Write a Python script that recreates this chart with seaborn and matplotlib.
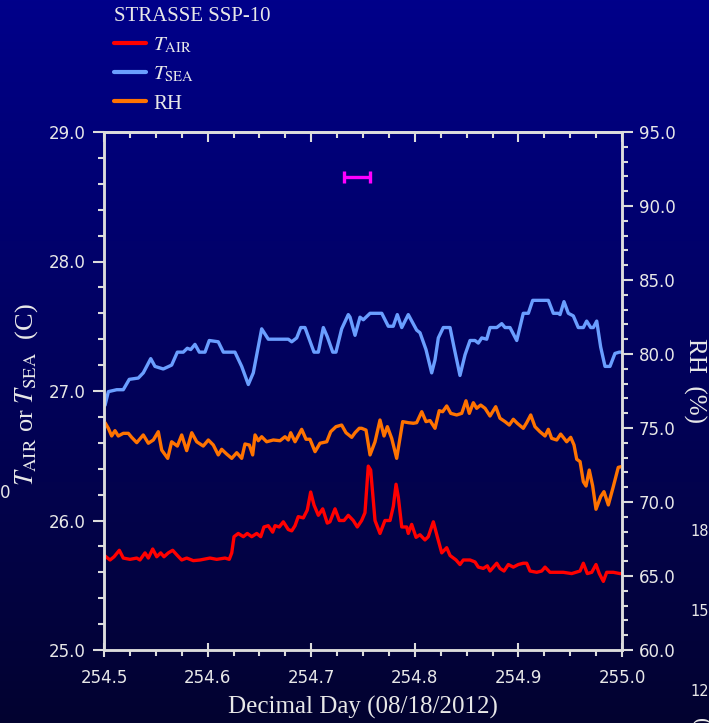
import numpy as np
import pandas as pd
import matplotlib
matplotlib.use("Agg")
import matplotlib.pyplot as plt
from matplotlib.ticker import MultipleLocator, FormatStrFormatter
from matplotlib.colors import LinearSegmentedColormap
from matplotlib.lines import Line2D
import seaborn as sns

sns.set_theme(style="white")
plt.rcParams['font.family'] = ['DejaVu Sans']
plt.rcParams['mathtext.fontset'] = 'stix'

# ---------------- data ----------------
tsea_day = [254.5010, 254.5042, 254.5123, 254.5186, 254.5244, 254.5331, 254.5379, 254.5412,
            254.5451, 254.5492, 254.5572, 254.5653, 254.5708, 254.5765, 254.5804, 254.5837,
            254.5878, 254.5920, 254.5975, 254.6016, 254.6103, 254.6152, 254.6264, 254.6329,
            254.6393, 254.6441, 254.6522, 254.6586, 254.6779, 254.6812, 254.6860, 254.6899,
            254.6940, 254.7027, 254.7069, 254.7117, 254.7155, 254.7208, 254.7239, 254.7294,
            254.7358, 254.7375, 254.7423, 254.7471, 254.7503, 254.7568, 254.7681, 254.7744,
            254.7792, 254.7831, 254.7874, 254.7937, 254.8018, 254.8050, 254.8108, 254.8163,
            254.8195, 254.8227, 254.8275, 254.8340, 254.8378, 254.8436, 254.8485, 254.8533,
            254.8581, 254.8613, 254.8646, 254.8694, 254.8726, 254.8791, 254.8839, 254.8871,
            254.8919, 254.8984, 254.9047, 254.9096, 254.9138, 254.9289, 254.9337, 254.9385,
            254.9402, 254.9440, 254.9482, 254.9530, 254.9578, 254.9627, 254.9659, 254.9698,
            254.9723, 254.9756, 254.9794, 254.9836, 254.9884, 254.9932, 254.9974, 255.0000]
tsea_val = [26.89, 26.995, 27.01, 27.01, 27.09, 27.10, 27.14, 27.19,
            27.25, 27.19, 27.17, 27.20, 27.30, 27.30, 27.33, 27.32,
            27.36, 27.30, 27.30, 27.39, 27.38, 27.30, 27.30, 27.19,
            27.05, 27.14, 27.48, 27.40, 27.40, 27.38, 27.41, 27.49,
            27.49, 27.30, 27.30, 27.49, 27.42, 27.30, 27.30, 27.48,
            27.59, 27.57, 27.43, 27.57, 27.55, 27.60, 27.60, 27.50,
            27.50, 27.59, 27.49, 27.59, 27.47, 27.45, 27.32, 27.14,
            27.24, 27.41, 27.49, 27.49, 27.34, 27.12, 27.28, 27.39,
            27.39, 27.37, 27.41, 27.40, 27.49, 27.49, 27.52, 27.49,
            27.49, 27.39, 27.60, 27.60, 27.70, 27.70, 27.60, 27.60,
            27.59, 27.69, 27.60, 27.58, 27.49, 27.49, 27.54, 27.49,
            27.49, 27.54, 27.34, 27.19, 27.19, 27.29, 27.30, 27.30]

rh_day = [254.5010, 254.5042, 254.5074, 254.5106, 254.5138, 254.5186, 254.5235, 254.5267,
          254.5316, 254.5379, 254.5428, 254.5476, 254.5524, 254.5557, 254.5615, 254.5653,
          254.5708, 254.5750, 254.5798, 254.5847, 254.5895, 254.5958, 254.6007, 254.6055,
          254.6103, 254.6136, 254.6184, 254.6233, 254.6281, 254.6329, 254.6361, 254.6403,
          254.6435, 254.6458, 254.6489, 254.6522, 254.6570, 254.6634, 254.6699, 254.6747,
          254.6779, 254.6802, 254.6844, 254.6908, 254.6950, 254.6988, 254.7037, 254.7085,
          254.7150, 254.7188, 254.7239, 254.7294, 254.7336, 254.7391, 254.7423, 254.7464,
          254.7487, 254.7529, 254.7568, 254.7616, 254.7664, 254.7703, 254.7735, 254.7777,
          254.7825, 254.7883, 254.7937, 254.7986, 254.8018, 254.8067, 254.8108, 254.8147,
          254.8195, 254.8236, 254.8269, 254.8308, 254.8347, 254.8404, 254.8453, 254.8494,
          254.8526, 254.8565, 254.8597, 254.8636, 254.8678, 254.8726, 254.8781, 254.8822,
          254.8871, 254.8912, 254.8951, 254.8989, 254.9047, 254.9080, 254.9119, 254.9160,
          254.9208, 254.9257, 254.9289, 254.9321, 254.9370, 254.9408, 254.9466, 254.9505,
          254.9537, 254.9563, 254.9595, 254.9627, 254.9653, 254.9684, 254.9717, 254.9749,
          254.9794, 254.9826, 254.9868, 254.9916, 254.9964, 255.0000]
rh_val = [75.36, 74.98, 74.46, 74.82, 74.46, 74.64, 74.64, 74.37,
          74.01, 74.53, 73.97, 74.19, 74.75, 73.51, 72.95, 74.07,
          73.78, 74.53, 73.47, 74.68, 74.07, 73.78, 74.19, 73.85,
          73.18, 73.56, 73.24, 72.95, 73.33, 72.95, 73.92, 73.85,
          73.18, 74.53, 74.14, 74.41, 74.07, 74.19, 74.14, 74.41,
          74.19, 74.68, 74.07, 74.91, 74.24, 74.24, 73.40, 73.97,
          74.07, 74.75, 75.09, 75.20, 74.68, 74.37, 74.68, 74.98,
          74.98, 74.86, 73.18, 74.07, 75.54, 74.46, 75.09, 74.30,
          72.95, 75.43, 75.36, 75.32, 75.36, 76.10, 75.43, 75.50,
          74.98, 76.17, 76.10, 76.49, 75.99, 75.88, 75.99, 76.84,
          75.99, 76.71, 76.33, 76.55, 76.33, 75.81, 76.44, 75.66,
          75.43, 75.20, 75.59, 75.32, 74.98, 75.36, 75.88, 75.09,
          74.75, 74.46, 74.91, 74.30, 74.19, 74.59, 74.07, 74.37,
          73.85, 72.89, 72.73, 71.37, 71.08, 72.16, 71.08, 69.51,
          70.36, 70.70, 69.80, 71.04, 72.34, 72.40]

tair_day = [254.5010, 254.5058, 254.5097, 254.5148, 254.5186, 254.5251, 254.5316, 254.5347,
            254.5396, 254.5428, 254.5470, 254.5509, 254.5547, 254.5579, 254.5621, 254.5663,
            254.5708, 254.5750, 254.5798, 254.5862, 254.5927, 254.6023, 254.6088, 254.6168,
            254.6209, 254.6233, 254.6255, 254.6296, 254.6345, 254.6383, 254.6426, 254.6474,
            254.6513, 254.6544, 254.6586, 254.6628, 254.6651, 254.6692, 254.6731, 254.6779,
            254.6812, 254.6844, 254.6875, 254.6924, 254.6962, 254.6995, 254.7027, 254.7069,
            254.7111, 254.7155, 254.7181, 254.7230, 254.7271, 254.7317, 254.7358, 254.7406,
            254.7445, 254.7487, 254.7519, 254.7551, 254.7574, 254.7616, 254.7664, 254.7712,
            254.7761, 254.7793, 254.7819, 254.7841, 254.7874, 254.7922, 254.7937, 254.7970,
            254.8012, 254.8050, 254.8098, 254.8130, 254.8179, 254.8217, 254.8260, 254.8308,
            254.8340, 254.8398, 254.8436, 254.8468, 254.8533, 254.8581, 254.8613, 254.8661,
            254.8700, 254.8726, 254.8791, 254.8822, 254.8861, 254.8903, 254.8951, 254.8999,
            254.9047, 254.9080, 254.9112, 254.9177, 254.9225, 254.9257, 254.9305, 254.9433,
            254.9514, 254.9595, 254.9627, 254.9665, 254.9708, 254.9749, 254.9781, 254.9820,
            254.9852, 254.9916, 254.9981, 255.0000]
tair_val = [25.726, 25.695, 25.72, 25.77, 25.71, 25.70, 25.71, 25.695,
            25.75, 25.71, 25.78, 25.72, 25.75, 25.72, 25.75, 25.77,
            25.73, 25.695, 25.71, 25.69, 25.695, 25.71, 25.70, 25.71,
            25.70, 25.75, 25.875, 25.90, 25.875, 25.90, 25.875, 25.90,
            25.875, 25.95, 25.96, 25.91, 25.96, 25.95, 25.99, 25.93,
            25.92, 25.96, 26.03, 26.02, 26.08, 26.22, 26.12, 26.04,
            26.09, 25.98, 25.99, 26.09, 26.00, 26.00, 26.04, 26.00,
            25.95, 26.00, 26.06, 26.42, 26.39, 26.00, 25.90, 26.00,
            26.00, 26.11, 26.28, 26.18, 25.95, 25.95, 25.90, 25.97,
            25.87, 25.89, 25.85, 25.875, 25.99, 25.875, 25.75, 25.79,
            25.73, 25.695, 25.66, 25.695, 25.695, 25.68, 25.64, 25.63,
            25.65, 25.61, 25.67, 25.63, 25.61, 25.66, 25.64, 25.66,
            25.67, 25.67, 25.61, 25.60, 25.61, 25.64, 25.60, 25.60,
            25.59, 25.61, 25.67, 25.59, 25.60, 25.66, 25.59, 25.53,
            25.60, 25.60, 25.59, 25.59]

marker_day = [254.7442]
marker_val = [28.656]
marker_halfwidth = [0.0122]

x_ticks = [254.5, 254.6, 254.7, 254.8, 254.9, 255.0]
t_ticks = [25.0, 26.0, 27.0, 28.0, 29.0]
rh_ticks = [60.0, 65.0, 70.0, 75.0, 80.0, 85.0, 90.0, 95.0]

legend_title = "STRASSE SSP-10"
label_tair = r"$T_{\mathrm{AIR}}$"
label_tsea = r"$T_{\mathrm{SEA}}$"
label_rh = "RH"

# ---------------- styling ----------------
c_air = "#FF0000"
c_sea = "#6A9EFF"
c_rh = "#FF7300"
fg = "#DCDCDC"
txt = "#E8E8E8"
serif = ['Liberation Serif', 'DejaVu Serif']

fig = plt.figure(figsize=(7.09, 7.23), dpi=100)

bg = fig.add_axes([0, 0, 1, 1], zorder=-10)
grad = np.linspace(0, 1, 256).reshape(-1, 1)
cmap = LinearSegmentedColormap.from_list("bg", ["#00008A", "#030330"])
bg.imshow(grad, aspect="auto", cmap=cmap, extent=[0, 1, 0, 1], origin="upper")
bg.set_axis_off()

W, H = 709.0, 723.0
ax = fig.add_axes([104 / W, 1 - 650 / H, (622 - 104) / W, (650 - 132) / H])
ax.patch.set_alpha(0)
ax2 = ax.twinx()
ax2.patch.set_alpha(0)

lw = 2.4
sns.lineplot(x=tair_day, y=tair_val, ax=ax, color=c_air, lw=lw, sort=False,
             estimator=None, legend=False)
sns.lineplot(x=tsea_day, y=tsea_val, ax=ax, color=c_sea, lw=lw, sort=False,
             estimator=None, legend=False)
sns.lineplot(x=rh_day, y=rh_val, ax=ax2, color=c_rh, lw=lw, sort=False,
             estimator=None, legend=False)

ax.errorbar(marker_day, marker_val, xerr=marker_halfwidth, fmt="none",
            ecolor="#FF00FF", elinewidth=2.4, capsize=4.5, capthick=2.4)

ax.set_xlim(254.5, 255.0)
ax.set_ylim(25.0, 29.0)
ax2.set_ylim(60.0, 95.0)

ax.set_xticks(x_ticks)
ax.set_yticks(t_ticks)
ax2.set_yticks(rh_ticks)
ax.xaxis.set_minor_locator(MultipleLocator(0.025))
ax.yaxis.set_minor_locator(MultipleLocator(0.2))
ax2.yaxis.set_minor_locator(MultipleLocator(1.0))
ax.xaxis.set_major_formatter(FormatStrFormatter("%.1f"))
ax.yaxis.set_major_formatter(FormatStrFormatter("%.1f"))
ax2.yaxis.set_major_formatter(FormatStrFormatter("%.1f"))
ax.set_xlabel("")
ax.set_ylabel("")
ax2.set_ylabel("")

for a in (ax, ax2):
    for s in a.spines.values():
        s.set_color(fg)
        s.set_linewidth(1.8)
        s.set_visible(True)

tick_font = 12
ax.tick_params(axis="x", which="major", direction="inout", length=10, width=1.5,
               color=fg, labelcolor=txt, labelsize=tick_font, pad=9, bottom=True, top=False)
ax.tick_params(axis="x", which="minor", direction="out", length=4.5, width=1.5,
               color=fg, bottom=True, top=False)
ax.tick_params(axis="y", which="major", direction="out", length=8, width=1.5,
               color=fg, labelcolor=txt, labelsize=tick_font, pad=5, left=True, right=False)
ax.tick_params(axis="y", which="minor", direction="out", length=4.5, width=1.5,
               color=fg, left=True, right=False)
ax2.tick_params(axis="y", which="major", direction="out", length=8, width=1.5,
                color=fg, labelcolor=txt, labelsize=tick_font, pad=4, right=True, left=False)
ax2.tick_params(axis="y", which="minor", direction="out", length=4.5, width=1.5,
                color=fg, right=True, left=False)

top = ax.secondary_xaxis("top")
top.set_xticks(x_ticks)
top.xaxis.set_minor_locator(MultipleLocator(0.025))
top.tick_params(axis="x", which="major", direction="in", length=7, width=1.5,
                color=fg, labeltop=False)
top.tick_params(axis="x", which="minor", direction="in", length=4, width=1.5, color=fg)
top.spines["top"].set_color(fg)
top.spines["top"].set_linewidth(1.8)

# axis labels
fig.text((104 + 622) / 2 / W, 1 - 707 / H, "Decimal Day (08/18/2012)",
         ha="center", va="center", color=txt, fontsize=18, family=serif)
fig.text(27 / W, 1 - 395 / H, r"$T_{\mathrm{AIR}}$ or $T_{\mathrm{SEA}}$  (C)",
         ha="center", va="center", rotation=90, color=txt, fontsize=19, family=serif)
fig.text(695 / W, 1 - 380 / H, "RH  (%)", ha="center", va="center", rotation=270,
         color=txt, fontsize=18, family=serif)

# legend
handles = [Line2D([], [], color=c_air, lw=3),
           Line2D([], [], color=c_sea, lw=3),
           Line2D([], [], color=c_rh, lw=3)]
leg = fig.legend(handles, [label_tair, label_tsea, label_rh], loc="upper left",
                 bbox_to_anchor=(104 / W, 1 + 3 / H), frameon=False, borderpad=0,
                 handlelength=1.5, handletextpad=0.35, labelspacing=0.45,
                 prop={"family": serif, "size": 15}, labelcolor=txt,
                 title=legend_title, title_fontproperties={"family": serif, "size": 15},
                 alignment="left")
leg.get_title().set_color(txt)

# fragments of neighbouring panels visible at the edges
fig.text(0 / W, 1 - 493 / H, "0", ha="left", va="center", color=txt, fontsize=tick_font)
for yy, s in [(531, "18"), (612, "15"), (692, "12")]:
    fig.text(690 / W, 1 - yy / H, s, ha="left", va="center", color=txt, fontsize=10.5)
fig.text(699 / W, 1 - 722 / H, "(", ha="center", va="center", rotation=270,
         color=txt, fontsize=16, family=serif)

fig.savefig("out.png", dpi=100)
